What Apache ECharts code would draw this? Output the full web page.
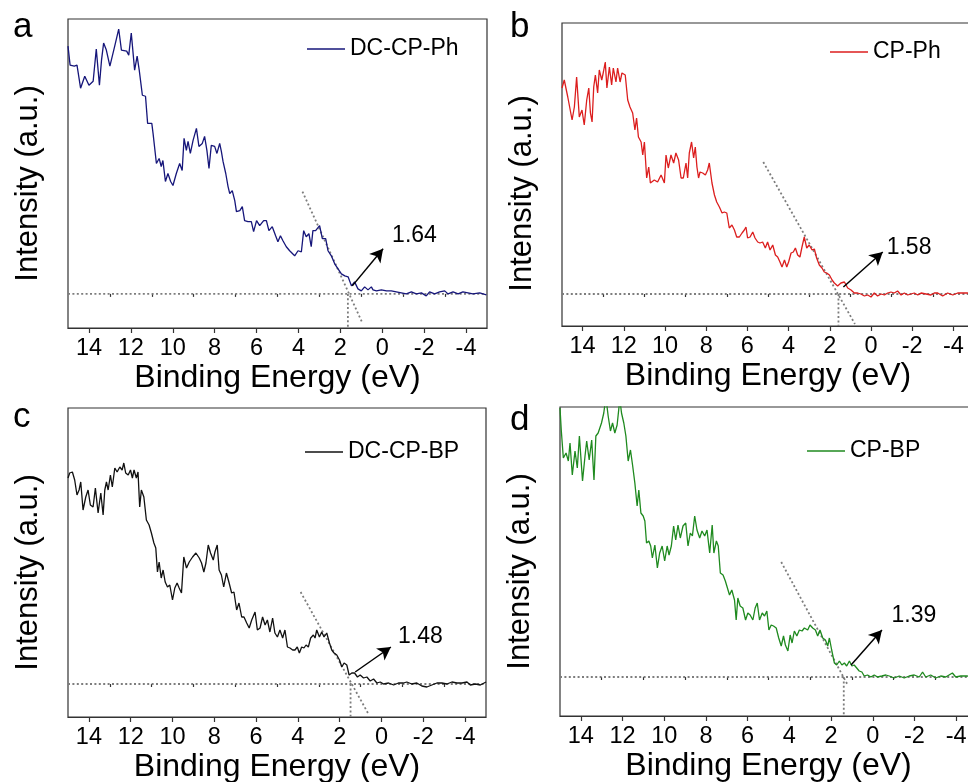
<!DOCTYPE html>
<html>
<head>
<meta charset="utf-8">
<script src="https://cdn.jsdelivr.net/npm/echarts@6/dist/echarts.min.js"></script>
<style>html,body{margin:0;padding:0;background:#fff}#chart{width:968px;height:782px}</style>
</head>
<body>
<div id="chart"></div>
<script>
// ---------- DATA ----------
const tickValues = [14, 12, 10, 8, 6, 4, 2, 0, -2, -4];
const minorTickValues = [13, 11, 9, 7, 5, 3, 1, -1, -3];
const seriesNames = ['DC-CP-Ph', 'CP-Ph', 'DC-CP-BP', 'CP-BP'];
const panelLetters = ['a', 'b', 'c', 'd'];
const bandGaps = [1.64, 1.58, 1.48, 1.39];

// Binding energy (eV), intensity (a.u., baseline = 0)
const dcCpPh = [[15,247],[14.9,228],[14.7,227],[14.57,228],[14.4,205],[14.2,217],[14.0,208],[13.8,212],[13.65,244],[13.5,208],[13.4,233],[13.3,250],[13.17,243],[13.0,227],[12.77,247],[12.58,264],[12.45,243],[12.2,242],[12.1,238],[11.98,260],[11.82,223],[11.7,237],[11.6,223],[11.45,198],[11.3,197],[11.2,170],[11.0,170],[10.94,160],[10.78,130],[10.65,135],[10.55,127],[10.47,133],[10.35,112],[10.23,120],[10.1,112],[9.99,108],[9.83,120],[9.67,130],[9.55,123],[9.46,155],[9.35,143],[9.27,152],[9.16,140],[9.03,153],[8.87,165],[8.75,147],[8.59,150],[8.48,157],[8.37,143],[8.27,125],[8.16,148],[8.0,147],[7.89,140],[7.76,150],[7.68,142],[7.6,132],[7.47,120],[7.36,107],[7.28,100],[7.16,103],[7.04,93],[6.96,82],[6.8,83],[6.68,87],[6.57,73],[6.41,72],[6.25,72],[6.14,62],[6.0,73],[5.85,68],[5.66,73],[5.53,73],[5.41,63],[5.25,67],[5.09,58],[4.98,52],[4.86,58],[4.74,53],[4.58,47],[4.42,43],[4.18,38],[4.02,43],[3.86,42],[3.75,63],[3.63,57],[3.5,60],[3.39,47],[3.31,63],[3.18,63],[2.99,68],[2.86,55],[2.7,55],[2.59,43],[2.43,38],[2.27,30],[2.11,25],[1.95,20],[1.79,18],[1.63,17],[1.47,8],[1.32,12],[1.16,5],[1.0,3],[0.84,7],[0.68,4],[0.52,7],[0.44,4],[0.28,3],[0.04,4],[-0.2,3],[-0.43,3],[-0.67,2],[-0.91,1],[-1.15,0],[-1.39,2],[-1.63,0],[-1.87,1],[-2.1,-2],[-2.26,2],[-2.5,0],[-2.74,2],[-2.98,3],[-3.14,0],[-3.38,2],[-3.62,0],[-3.85,2],[-4.09,1],[-4.33,0],[-4.65,1],[-4.97,-1]];

const cpPh = [[15,206],[14.89,214],[14.72,197],[14.51,174],[14.4,187],[14.29,217],[14.16,177],[14.03,184],[13.92,169],[13.8,194],[13.7,206],[13.62,181],[13.54,172],[13.46,207],[13.38,219],[13.27,201],[13.19,224],[13.07,214],[12.99,222],[12.9,232],[12.82,206],[12.7,227],[12.59,209],[12.51,226],[12.38,212],[12.3,226],[12.18,212],[12.09,221],[11.93,219],[11.81,194],[11.7,187],[11.57,181],[11.46,164],[11.38,176],[11.29,157],[11.16,152],[11.08,139],[11.0,152],[10.89,116],[10.79,127],[10.71,111],[10.52,114],[10.36,112],[10.19,119],[10.03,111],[9.95,139],[9.84,126],[9.71,139],[9.58,131],[9.47,141],[9.34,134],[9.22,116],[9.11,116],[8.98,131],[8.9,116],[8.82,141],[8.71,152],[8.61,136],[8.53,147],[8.45,127],[8.37,116],[8.3,122],[8.17,121],[8.04,119],[7.93,124],[7.85,131],[7.72,111],[7.6,99],[7.49,92],[7.36,87],[7.23,81],[7.12,82],[7.0,81],[6.88,66],[6.75,69],[6.63,64],[6.52,57],[6.39,57],[6.26,61],[6.15,64],[6.07,67],[5.99,56],[5.87,57],[5.74,62],[5.63,56],[5.5,52],[5.39,51],[5.26,52],[5.13,46],[5.02,52],[4.9,44],[4.77,49],[4.64,39],[4.53,37],[4.42,32],[4.32,27],[4.2,34],[4.09,27],[4.0,32],[3.88,41],[3.77,42],[3.67,46],[3.56,39],[3.45,37],[3.35,47],[3.24,57],[3.12,46],[3.0,49],[2.86,44],[2.75,45],[2.64,36],[2.51,29],[2.38,26],[2.27,22],[2.15,21],[2.02,19],[1.89,14],[1.78,11],[1.62,8],[1.46,11],[1.29,12],[1.13,6],[0.97,4],[0.81,1],[0.65,1],[0.49,0],[0.32,-2],[0.16,-1],[0.0,-3],[-0.16,1],[-0.32,-2],[-0.49,0],[-0.65,-1],[-0.81,1],[-0.97,2],[-1.13,1],[-1.29,3],[-1.46,-1],[-1.62,1],[-1.78,-1],[-1.94,0],[-2.1,1],[-2.27,-1],[-2.43,1],[-2.67,0],[-2.91,-1],[-3.07,1],[-3.24,1],[-3.48,-2],[-3.72,1],[-3.97,-1],[-4.21,1],[-4.45,1],[-4.68,1],[-4.85,0],[-5,1]];

const dcCpBp = [[15,206],[14.92,211],[14.79,212],[14.68,204],[14.57,189],[14.47,194],[14.39,202],[14.28,174],[14.15,187],[14.04,194],[13.93,179],[13.8,177],[13.69,196],[13.56,171],[13.43,191],[13.32,169],[13.24,194],[13.16,202],[13.08,194],[12.97,209],[12.88,197],[12.76,216],[12.65,212],[12.52,217],[12.41,214],[12.33,221],[12.24,211],[12.12,209],[12.01,214],[11.92,206],[11.84,214],[11.73,206],[11.65,212],[11.57,177],[11.49,194],[11.37,187],[11.25,164],[11.12,159],[11.01,151],[10.89,141],[10.8,136],[10.72,112],[10.64,122],[10.54,106],[10.45,114],[10.35,102],[10.24,97],[10.13,99],[10.0,84],[9.89,96],[9.78,101],[9.68,96],[9.57,91],[9.46,127],[9.33,116],[9.2,122],[9.04,127],[8.88,131],[8.72,126],[8.61,121],[8.5,112],[8.4,121],[8.29,139],[8.18,131],[8.05,124],[7.97,132],[7.86,139],[7.77,114],[7.66,109],[7.55,97],[7.42,111],[7.29,101],[7.17,91],[7.06,92],[6.93,74],[6.82,81],[6.69,67],[6.58,67],[6.45,61],[6.33,56],[6.21,64],[6.05,72],[5.94,54],[5.81,56],[5.69,67],[5.57,59],[5.46,64],[5.34,52],[5.21,66],[5.1,51],[4.98,47],[4.86,54],[4.73,46],[4.62,54],[4.5,37],[4.38,36],[4.25,34],[4.14,34],[4.03,37],[3.93,31],[3.82,37],[3.71,36],[3.61,39],[3.5,37],[3.39,46],[3.26,49],[3.18,46],[3.1,54],[2.97,47],[2.86,52],[2.75,47],[2.62,51],[2.49,41],[2.38,34],[2.27,31],[2.14,29],[2.01,24],[1.9,17],[1.79,21],[1.66,19],[1.55,9],[1.42,11],[1.29,11],[1.15,7],[1.02,9],[0.86,6],[0.7,7],[0.54,3],[0.38,5],[0.22,1],[0.06,2],[-0.1,0],[-0.34,1],[-0.58,-1],[-0.81,1],[-1.05,1],[-1.21,2],[-1.45,0],[-1.69,1],[-1.93,-2],[-2.17,-3],[-2.41,-1],[-2.65,1],[-2.89,1],[-3.13,0],[-3.37,2],[-3.61,1],[-3.85,1],[-4.09,2],[-4.25,-1],[-4.49,0],[-4.73,-1],[-5.0,2]];

const cpBp = [[15,269],[14.94,247],[14.84,219],[14.71,224],[14.6,216],[14.52,234],[14.41,202],[14.28,226],[14.17,209],[14.07,241],[13.92,196],[13.8,221],[13.72,236],[13.6,217],[13.48,237],[13.37,197],[13.28,241],[13.17,244],[13.01,254],[12.9,264],[12.8,280],[12.69,261],[12.58,246],[12.48,254],[12.37,244],[12.26,252],[12.13,278],[12.05,264],[11.94,254],[11.84,241],[11.73,216],[11.62,227],[11.52,212],[11.41,194],[11.3,171],[11.22,187],[11.12,164],[11.01,161],[10.93,156],[10.85,134],[10.74,136],[10.65,131],[10.57,119],[10.45,132],[10.33,109],[10.22,124],[10.1,131],[9.98,116],[9.86,131],[9.77,122],[9.66,131],[9.55,151],[9.45,137],[9.34,152],[9.23,139],[9.1,151],[8.97,154],[8.86,131],[8.75,144],[8.65,141],[8.54,161],[8.43,147],[8.3,139],[8.19,146],[8.06,141],[7.95,147],[7.82,124],[7.7,152],[7.62,124],[7.5,136],[7.41,131],[7.31,104],[7.18,102],[7.07,96],[6.98,97],[6.87,82],[6.76,87],[6.63,77],[6.55,57],[6.47,79],[6.36,71],[6.23,69],[6.1,57],[5.99,64],[5.88,62],[5.75,57],[5.64,69],[5.54,74],[5.43,57],[5.3,64],[5.19,61],[5.08,66],[4.98,47],[4.87,52],[4.76,51],[4.63,49],[4.51,39],[4.39,31],[4.28,41],[4.19,32],[4.07,26],[3.96,42],[3.87,34],[3.76,46],[3.64,41],[3.52,47],[3.39,46],[3.28,49],[3.12,47],[3.01,52],[2.88,49],[2.75,47],[2.64,41],[2.53,47],[2.4,39],[2.27,37],[2.16,31],[2.08,39],[1.97,27],[1.84,14],[1.73,12],[1.6,16],[1.48,12],[1.36,14],[1.25,11],[1.12,16],[1.0,11],[0.89,12],[0.77,9],[0.65,6],[0.52,5],[0.41,1],[0.25,2],[0.09,0],[-0.07,2],[-0.23,0],[-0.44,1],[-0.63,2],[-0.79,1],[-1.03,-1],[-1.27,1],[-1.51,-1],[-1.75,1],[-1.99,2],[-2.23,0],[-2.39,5],[-2.54,0],[-2.78,2],[-3.02,-1],[-3.26,1],[-3.5,0],[-3.82,4],[-3.98,0],[-4.22,1],[-4.52,1],[-4.75,0],[-5,1]];

// tangent (onset) lines: [[E1, I1], [E2, I2]]
const tangentLines = [
  [[3.81, 102], [0.95, -29]],
  [[5.23, 132], [0.78, -30]],
  [[3.87, 92], [0.65, -29]],
  [[4.39, 115], [1.2, -8]]
];
// arrows: [[start], [end]]
const arrows = [
  [[1.43, 8], [-0.04, 45]],
  [[1.34, 7], [-0.57, 42]],
  [[1.26, 12], [-0.45, 37]],
  [[1.04, 12], [-0.44, 47]]
];
// gap label anchor (left-middle of text)
const gapLabelPos = [[-0.47, 58], [-0.76, 46], [-0.79, 47], [-0.9, 61]];
// intensity axis ranges
const yMin = [-34, -32, -33, -39];
const yMax = [274, 271, 276, 270];
const allData = [dcCpPh, cpPh, dcCpBp, cpBp];

// ---------- LAYOUT / STYLE ----------
const FONT = 'Liberation Sans, Arial, Helvetica, sans-serif';
const colors = ['#16167a', '#dc1e1e', '#111111', '#1f8a1f'];
const grids = [
  {left: 68, top: 19, width: 419, height: 309},
  {left: 562, top: 23, width: 412, height: 303},
  {left: 68, top: 408, width: 418, height: 309},
  {left: 560, top: 407, width: 417, height: 309}
];
const legendPos = [[307, 37.5], [830, 40.5], [305, 440.5], [807, 439.5]];
const letterPos = [[13, 10], [510, 10], [13, 400], [510, 403]];
const yNameShift = [20, 38, 20, 20];
const dotStyle = {color: '#7d7d7d', width: 1.8, type: [2, 2.4]};

const option = {
  animation: false,
  backgroundColor: '#fff',
  title: panelLetters.map((t, i) => ({
    text: t, left: letterPos[i][0], top: letterPos[i][1], padding: 0,
    textStyle: {fontSize: 35, fontWeight: 'normal', fontFamily: FONT, color: '#000'}
  })),
  legend: seriesNames.map((n, i) => ({
    data: [n], left: legendPos[i][0], top: legendPos[i][1], padding: 0,
    icon: 'rect', itemWidth: 38, itemHeight: 1.6,
    textStyle: {fontSize: 23, fontFamily: FONT, color: '#000'},
    selectedMode: false
  })),
  grid: grids.map(g => Object.assign({show: true, borderColor: '#333', borderWidth: 1.2,
    backgroundColor: 'transparent', outerBoundsMode: 'none', containLabel: false}, g)),
  xAxis: [],
  yAxis: [],
  series: []
};

for (let i = 0; i < 4; i++) {
  option.xAxis.push({
    type: 'value', gridIndex: i, min: -5, max: 15, inverse: true,
    name: 'Binding Energy (eV)', nameLocation: 'middle', nameGap: 48,
    nameTextStyle: {fontSize: 32, fontFamily: FONT, color: '#000', verticalAlign: 'middle'},
    axisLine: {show: true, onZero: false, lineStyle: {color: '#333', width: 1.2}},
    axisTick: {show: true, length: 5, customValues: tickValues, lineStyle: {color: '#333', width: 1.2}},
    axisLabel: {show: true, customValues: tickValues, margin: 21, verticalAlign: 'middle',
      fontSize: 23.5, fontFamily: FONT, color: '#000'},
    splitLine: {show: false}
  });
  option.xAxis.push({
    type: 'value', gridIndex: i, min: -5, max: 15, inverse: true, position: 'bottom',
    axisLine: {show: false},
    axisTick: {show: true, length: 3, customValues: minorTickValues, lineStyle: {color: '#333', width: 1.2}},
    axisLabel: {show: false},
    splitLine: {show: false}
  });
  option.yAxis.push({
    type: 'value', gridIndex: i, min: yMin[i], max: yMax[i],
    name: 'Intensity (a.u.)', nameLocation: 'middle', nameGap: 40, nameRotate: 90,
    nameTextStyle: {fontSize: 31, fontFamily: FONT, color: '#000', verticalAlign: 'middle', align: 'center',
      padding: [0, yNameShift[i], 0, 0]},
    axisLine: {show: false}, axisTick: {show: false}, axisLabel: {show: false}, splitLine: {show: false}
  });
  const xi = i * 2;
  // baseline
  option.series.push({
    type: 'line', xAxisIndex: xi, yAxisIndex: i, silent: true, symbol: 'none',
    data: [[15, 0], [-5, 0]], lineStyle: dotStyle, z: 1
  });
  // tangent
  option.series.push({
    type: 'line', xAxisIndex: xi, yAxisIndex: i, silent: true, symbol: 'none',
    data: tangentLines[i], lineStyle: dotStyle, z: 1
  });
  // vertical at gap
  option.series.push({
    type: 'line', xAxisIndex: xi, yAxisIndex: i, silent: true, symbol: 'none',
    data: [[bandGaps[i], 0], [bandGaps[i], yMin[i]]], lineStyle: dotStyle, z: 1
  });
  // main spectrum
  option.series.push({
    name: seriesNames[i], type: 'line', xAxisIndex: xi, yAxisIndex: i,
    data: allData[i], symbol: 'none', clip: true,
    lineStyle: {color: colors[i], width: 1.3}, itemStyle: {color: colors[i]}, z: 3
  });
  // arrow
  option.series.push({
    type: 'line', xAxisIndex: xi, yAxisIndex: i, silent: true, symbol: 'none', data: [],
    markLine: {
      silent: true, symbol: ['none', 'arrow'], symbolSize: [11, 13],
      lineStyle: {color: '#000', width: 1.5, type: 'solid'},
      label: {show: false},
      data: [[{coord: arrows[i][0]}, {coord: arrows[i][1]}]]
    },
    z: 5
  });
}

const chart = echarts.init(document.getElementById('chart'), null, {renderer: 'canvas'});
chart.setOption(option);

// gap value labels, positioned through the axes' own scales
const gapTexts = bandGaps.map((g, i) => {
  const p = chart.convertToPixel({xAxisIndex: i * 2, yAxisIndex: i}, gapLabelPos[i]);
  return {
    type: 'text', x: p[0], y: p[1], z: 10, silent: true,
    style: {text: g.toFixed(2), fill: '#000', font: '23px ' + FONT,
      textAlign: 'left', textVerticalAlign: 'middle'}
  };
});
chart.setOption({graphic: gapTexts});
</script>
</body>
</html>
